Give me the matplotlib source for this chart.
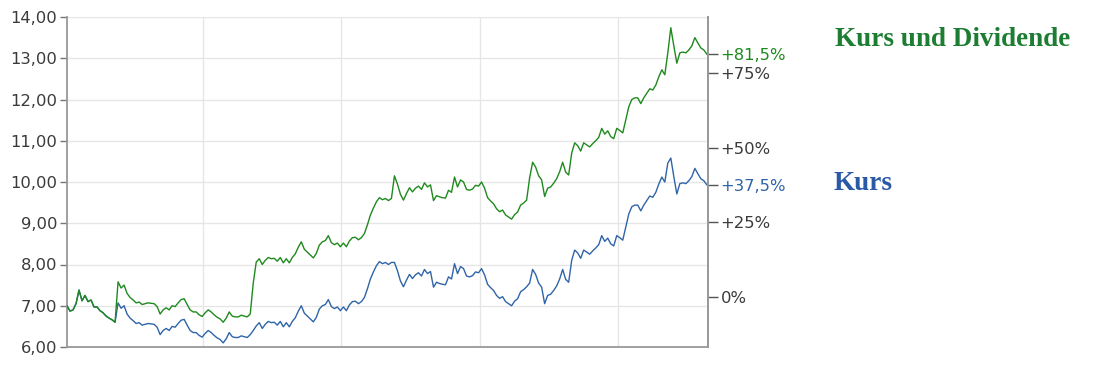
import matplotlib
matplotlib.use("Agg")
import matplotlib.pyplot as plt
import matplotlib.dates as mdates
import pandas as pd

# ---------------- data ----------------
start_date = "2009-01-06"
end_date = "2013-08-23"

kurs_dividende = [
    7.00, 6.87, 6.90, 7.05, 7.38, 7.12, 7.25, 7.10, 7.14, 6.97, 6.97, 6.88, 6.83, 6.75, 6.70, 6.66, 6.60,
    7.58, 7.43, 7.50, 7.30, 7.20, 7.14, 7.07, 7.09, 7.03, 7.05,
    7.07, 7.06, 7.05, 6.98, 6.80, 6.90, 6.95, 6.90, 7.00, 6.98,
    7.07, 7.15, 7.17, 7.03, 6.90, 6.85, 6.85, 6.78, 6.74, 6.83,
    6.90, 6.85, 6.78, 6.72, 6.68, 6.60, 6.70, 6.85, 6.75, 6.73,
    6.73, 6.77, 6.75, 6.73, 6.80, 7.55, 8.06, 8.14, 8.00, 8.10,
    8.17, 8.14, 8.15, 8.08, 8.17, 8.04, 8.14, 8.04, 8.17, 8.26,
    8.42, 8.55, 8.37, 8.30, 8.23, 8.16, 8.27, 8.47, 8.55, 8.58,
    8.70, 8.53, 8.48, 8.52, 8.43, 8.52, 8.43, 8.57, 8.65, 8.66,
    8.60, 8.65, 8.75, 8.96, 9.20, 9.37, 9.52, 9.62, 9.57, 9.60,
    9.55, 9.60, 10.15, 9.95, 9.70, 9.56, 9.72, 9.86, 9.76, 9.85,
    9.90, 9.82, 9.98, 9.88, 9.93, 9.55, 9.67, 9.64, 9.62, 9.61,
    9.80, 9.75, 10.12, 9.88, 10.05, 10.00, 9.82, 9.80, 9.83, 9.92,
    9.90, 10.00, 9.85, 9.62, 9.54, 9.47, 9.35, 9.28, 9.32, 9.20,
    9.15, 9.10, 9.21, 9.27, 9.44, 9.49, 9.56, 10.10, 10.48, 10.36,
    10.15, 10.05, 9.65, 9.85, 9.88, 9.97, 10.08, 10.25, 10.48, 10.24,
    10.17, 10.70, 10.95, 10.88, 10.75, 10.95, 10.90, 10.85, 10.93, 11.00,
    11.08, 11.30, 11.16, 11.24, 11.10, 11.05, 11.30, 11.25, 11.19, 11.50,
    11.82, 12.00, 12.04, 12.04, 11.90, 12.04, 12.15, 12.26, 12.23, 12.35,
    12.55, 12.72, 12.60, 13.13, 13.74, 13.30, 12.88, 13.13, 13.15, 13.13,
    13.20, 13.30, 13.50, 13.37, 13.25, 13.20, 13.10,
]

kurs = [
    7.00, 6.87, 6.90, 7.05, 7.38, 7.12, 7.25, 7.10, 7.14, 6.97, 6.97, 6.88, 6.83, 6.75, 6.70, 6.66, 6.60,
    7.07, 6.94, 7.00, 6.80, 6.70, 6.64, 6.57, 6.59, 6.53, 6.55,
    6.57, 6.56, 6.55, 6.48, 6.30, 6.40, 6.45, 6.40, 6.50, 6.48,
    6.57, 6.65, 6.67, 6.53, 6.40, 6.35, 6.35, 6.28, 6.24, 6.33,
    6.40, 6.35, 6.28, 6.22, 6.18, 6.10, 6.20, 6.35, 6.25, 6.23,
    6.23, 6.27, 6.25, 6.23, 6.30, 6.40, 6.51, 6.59, 6.45, 6.55,
    6.62, 6.59, 6.60, 6.53, 6.62, 6.49, 6.59, 6.49, 6.62, 6.71,
    6.87, 7.00, 6.82, 6.75, 6.68, 6.61, 6.72, 6.92, 7.00, 7.03,
    7.15, 6.98, 6.93, 6.97, 6.88, 6.97, 6.88, 7.02, 7.10, 7.11,
    7.05, 7.10, 7.20, 7.41, 7.65, 7.82, 7.97, 8.07, 8.02, 8.05,
    8.00, 8.05, 8.05, 7.85, 7.60, 7.46, 7.62, 7.76, 7.66, 7.75,
    7.80, 7.72, 7.88, 7.78, 7.83, 7.45, 7.57, 7.54, 7.52, 7.51,
    7.70, 7.65, 8.02, 7.78, 7.95, 7.90, 7.72, 7.70, 7.73, 7.82,
    7.80, 7.90, 7.75, 7.52, 7.44, 7.37, 7.25, 7.18, 7.22, 7.10,
    7.05, 7.00, 7.11, 7.17, 7.34, 7.39, 7.46, 7.55, 7.88, 7.76,
    7.55, 7.45, 7.05, 7.25, 7.28, 7.37, 7.48, 7.65, 7.88, 7.64,
    7.57, 8.10, 8.35, 8.28, 8.15, 8.35, 8.30, 8.25, 8.33, 8.40,
    8.48, 8.70, 8.56, 8.64, 8.50, 8.45, 8.70, 8.65, 8.59, 8.90,
    9.22, 9.40, 9.44, 9.44, 9.30, 9.44, 9.55, 9.66, 9.63, 9.75,
    9.95, 10.12, 10.00, 10.46, 10.58, 10.13, 9.71, 9.96, 9.98, 9.96,
    10.03, 10.13, 10.33, 10.20, 10.08, 10.03, 9.93,
]

base_price = 7.22
pct_ticks = [0, 25, 50, 75]
end_pct_dividende = 81.5
end_pct_kurs = 37.5
year_grid = ["2010-01-01", "2011-01-01", "2012-01-01", "2013-01-01"]
y_ticks = [6, 7, 8, 9, 10, 11, 12, 13, 14]

green = "#1e8a1e"
blue = "#2f64a8"
label_green = "#1d7d32"
label_blue = "#2a5aa6"
txt = "#3a3a3a"

dates = pd.date_range(start_date, end_date, periods=len(kurs))

# ---------------- figure ----------------
fig = plt.figure(figsize=(10.94, 3.66), dpi=100)
ax = fig.add_axes([67 / 1094, 1 - 347 / 366, (708 - 67) / 1094, (347 - 17) / 366])

ax.plot(dates, kurs, color=blue, lw=1.0, zorder=3)
ax.plot(dates, kurs_dividende, color=green, lw=1.0, zorder=4)

ax.set_ylim(6, 14)
ax.set_xlim(pd.Timestamp("2009-01-06"), pd.Timestamp("2013-08-26"))
ax.set_yticks(y_ticks)
ax.set_yticklabels([f"{v:.2f}".replace(".", ",") for v in y_ticks])
ax.set_xticks(pd.to_datetime(year_grid))
ax.tick_params(axis="x", length=0, labelbottom=False)
ax.tick_params(axis="y", length=5, width=1, color="#777777", labelcolor=txt,
               labelsize=11.8, pad=2)
ax.grid(True, color="#e6e6e6", lw=1.0, zorder=0)
ax.set_axisbelow(True)

ax.spines["top"].set_visible(False)
for s in ["left", "bottom", "right"]:
    ax.spines[s].set_color("#999999")
    ax.spines[s].set_linewidth(1.3)

# right percentage axis
ax2 = ax.twinx()
ax2.set_ylim(6, 14)
r_vals = [base_price * (1 + p / 100) for p in pct_ticks]
r_labels = ["0%" if p == 0 else f"+{p}%" for p in pct_ticks]
r_vals += [base_price * (1 + end_pct_dividende / 100), base_price * (1 + end_pct_kurs / 100)]
r_labels += [f"+{end_pct_dividende:.1f}%".replace(".", ","), f"+{end_pct_kurs:.1f}%".replace(".", ",")]
ax2.set_yticks(r_vals)
ax2.set_yticklabels(r_labels)
ax2.tick_params(axis="y", length=7, width=1, color="#555555", labelcolor=txt,
                labelsize=11.8, pad=2)
tl = ax2.get_yticklabels()
tl[4].set_color(green)
tl[5].set_color(blue)
for s in ["top", "left", "bottom"]:
    ax2.spines[s].set_visible(False)
ax2.spines["right"].set_color("#999999")
ax2.spines["right"].set_linewidth(1.3)

# legend-like titles
fig.text(835 / 1094, 1 - 40 / 366, "Kurs und Dividende", color=label_green,
         fontsize=19.5, fontweight="bold", family="Liberation Serif", va="center", ha="left")
fig.text(833 / 1094, 1 - 184 / 366, "Kurs", color=label_blue,
         fontsize=19.5, fontweight="bold", family="Liberation Serif", va="center", ha="left")

fig.savefig("out.png", dpi=100)
